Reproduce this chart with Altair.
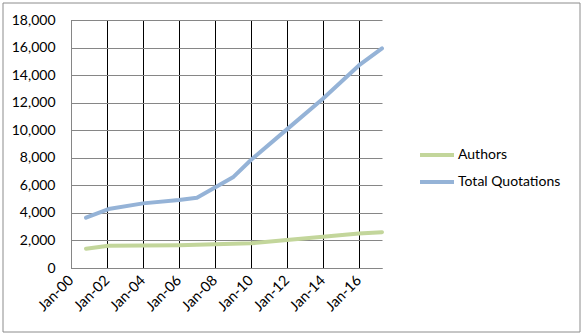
import altair as alt
import pandas as pd

dates = ["2000-11-01", "2002-02-01", "2004-01-01", "2006-01-01", "2007-01-01",
         "2009-01-01", "2010-01-01", "2012-01-01", "2014-01-01", "2016-01-01",
         "2017-04-15"]
authors = [1400, 1610, 1630, 1660, 1690, 1760, 1790, 2030, 2270, 2500, 2600]
quotations = [3650, 4280, 4690, 4930, 5100, 6580, 7840, 10060, 12280, 14700, 15940]
series_names = ["Authors", "Total Quotations"]
series_colors = ["#C3D69B", "#95B3D7"]
y_ticks = list(range(0, 18001, 2000))
x_tick_years = list(range(2000, 2017, 2))

rows = []
for d, a, q in zip(dates, authors, quotations):
    rows.append({"date": d + "T00:00:00", "series": series_names[0], "value": a})
    rows.append({"date": d + "T00:00:00", "series": series_names[1], "value": q})
df = pd.DataFrame(rows)

FONT = "Lato"

lines = alt.Chart(df).mark_line(strokeWidth=4, strokeCap="round", strokeJoin="round").encode(
    x=alt.X("date:T",
            scale=alt.Scale(domain=[alt.DateTime(year=2000, month=1, date=1),
                                    alt.DateTime(year=2017, month=4, date=15)]),
            axis=alt.Axis(title=None, values=[alt.DateTime(year=y, month=1, date=1) for y in x_tick_years],
                          format="%b-%y", labelAngle=-45, labelAlign="right", labelBaseline="middle",
                          labelPadding=10, labelOverlap=False, ticks=False, grid=True,
                          gridColor="#000000", gridWidth=1,
                          domainColor="#868686", labelFont=FONT, labelFontSize=14.5,
                          labelColor="#000000")),
    y=alt.Y("value:Q",
            scale=alt.Scale(domain=[0, 18000], nice=False),
            axis=alt.Axis(title=None, values=y_ticks, format=",.0f", ticks=False, grid=True,
                          gridColor="#868686", gridWidth=1, domainColor="#868686",
                          labelPadding=16, labelFont=FONT, labelFontSize=14,
                          labelColor="#000000")),
    color=alt.Color("series:N",
                    scale=alt.Scale(domain=series_names, range=series_colors),
                    legend=alt.Legend(title=None, orient="none", legendX=347, legendY=116,
                                      symbolType="stroke", symbolSize=1156, symbolStrokeWidth=4,
                                      labelFont=FONT, labelFontSize=14, labelColor="#000000",
                                      labelOffset=2, rowPadding=-6)),
)

frame = alt.Chart(alt.Data(values=[{}])).mark_rect(fill=None, stroke="#8c8c8c", strokeWidth=1).encode(
    x=alt.value(-68), x2=alt.value(509), y=alt.value(-17), y2=alt.value(312)
)

chart = alt.layer(lines, frame).properties(
    width=311, height=248,
    autosize=alt.AutoSizeParams(type="none"),
    padding={"left": 71, "top": 20, "right": 200, "bottom": 68},
    background="#ffffff",
).configure_view(stroke=None)

chart.save("out.html", embed_options={"renderer": "svg", "actions": False})
